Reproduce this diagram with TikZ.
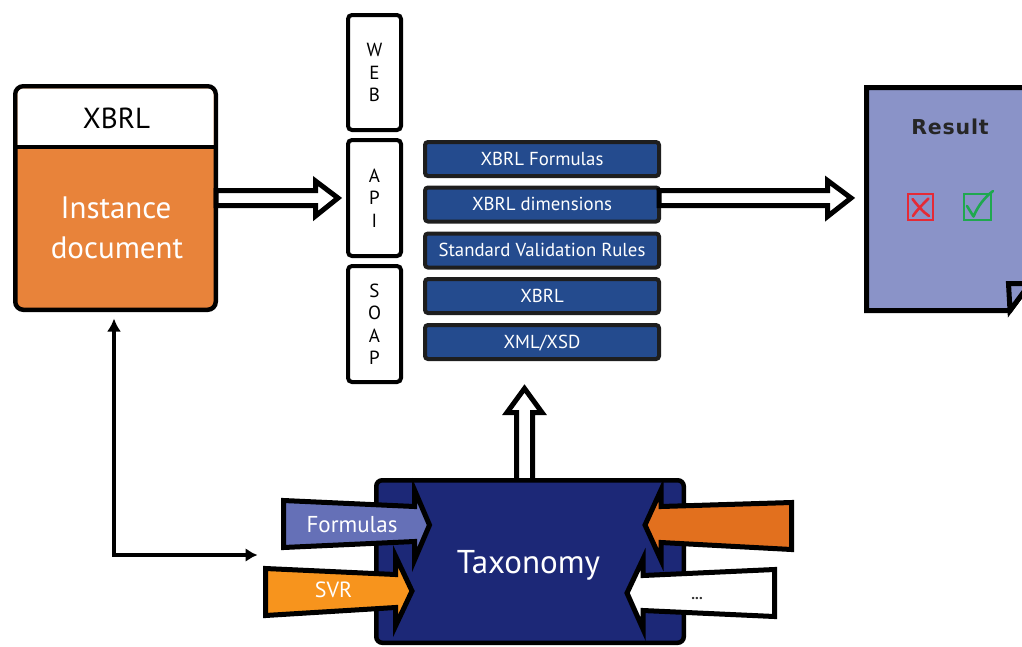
\documentclass[tikz,border=0pt]{standalone}
\usepackage{fontspec}
\setmainfont{PT Sans}
\newfontfamily\resfont{DejaVu Sans}
\usetikzlibrary{arrows.meta}
\definecolor{instorange}{HTML}{E8833A}
\definecolor{barblue}{HTML}{244B8E}
\definecolor{barborder}{HTML}{1E1E1E}
\definecolor{taxblue}{HTML}{1C2877}
\definecolor{formblue}{HTML}{6570B7}
\definecolor{svrorange}{HTML}{F7941D}
\definecolor{rightorange}{HTML}{E2701E}
\definecolor{resultfill}{HTML}{8A93C8}
\definecolor{xred}{HTML}{E52A36}
\definecolor{okgreen}{HTML}{1FA84F}
\begin{document}
\begin{tikzpicture}[x=1pt,y=-1pt,
  hollow/.style={draw=black, line width=5pt, fill=white, line join=miter},
  inarrow/.style={draw=black, line width=5pt, line join=miter},
  stackbox/.style={draw=black, line width=4pt, rounded corners=4pt, fill=white,
    minimum width=53pt, minimum height=116pt, inner sep=0pt, align=center,
    font=\fontsize{19}{22.5}\selectfont\addfontfeatures{LetterSpace=6}},
  bar/.style={draw=barborder, line width=4pt, fill=barblue, rounded corners=3pt,
    minimum width=234pt, minimum height=34pt, inner sep=0pt},
  bartext/.style={anchor=base, text=white, inner sep=0pt, font=\fontsize{18.8}{22}\selectfont},
  conn/.style={line width=3.5pt, {Latex[length=13pt,width=14pt]}-{Latex[length=12pt,width=14pt]}},
  lbl/.style={anchor=base, inner sep=0pt}
]
\useasboundingbox (0,0) rectangle (1022,646);

% ---------- Instance document ----------
\node[draw=black, line width=4.5pt, rounded corners=8pt, fill=instorange,
      minimum width=200.5pt, minimum height=223.5pt, inner sep=0pt] (inst) at (115.5,198) {};
\fill[white] (17.5,147) [rounded corners=6pt]-- (17.5,88.5) -- (213.5,88.5) [sharp corners]-- (213.5,147) -- cycle;
\draw[line width=4.5pt] (inst.west |- 0,147) -- (inst.east |- 0,147);
\node[lbl, font=\fontsize{29}{34}\selectfont] (xbrlhdr) at (116.5,128) {XBRL};
\node[lbl, text=white, font=\fontsize{31}{37}\selectfont] (insttxt1) at (116,218) {Instance};
\node[lbl, text=white, font=\fontsize{31}{37}\selectfont] (insttxt2) at (117,258) {document};

% ---------- WEB / API / SOAP ----------
\node[stackbox, minimum height=115pt] (web) at (374.5,72.5) {W\\E\\B};
\node[stackbox] (api) at (374.5,198) {A\\P\\I};
\node[stackbox] (soap) at (374.5,324) {S\\O\\A\\P};

% ---------- Layers ----------
\node[bar] (b1) at (542,159) {};
\node[bar] (b2) at (542,204.5) {};
\node[bar] (b3) at (542,250.5) {};
\node[bar] (b4) at (542,296) {};
\node[bar] (b5) at (542,342) {};
\node[bartext] (t1) at (542,165) {XBRL Formulas};
\node[bartext] (t2) at (542,210.5) {XBRL dimensions};
\node[bartext] (t3) at (542,256.5) {Standard Validation Rules};
\node[bartext] (t4) at (542,302) {XBRL};
\node[bartext] (t5) at (542,348) {XML/XSD};

% ---------- hollow arrows ----------
\draw[hollow] (216,190.5) -- (315.5,190.5) -- (315.5,181) -- (338,198) -- (315.5,216) -- (315.5,205.5) -- (216,205.5) -- cycle;
\draw[hollow] (659,190.5) -- (827.5,190.5) -- (827.5,180.5) -- (851,198) -- (827.5,216.5) -- (827.5,205.5) -- (659,205.5) -- cycle;
\draw[hollow] (516.5,481) -- (516.5,412.5) -- (507,412.5) -- (524.5,388.5) -- (542,412.5) -- (532.5,412.5) -- (532.5,481) -- cycle;

% ---------- Result page ----------
\draw[line width=5pt, fill=resultfill, line join=miter]
  (866.5,87.5) -- (1040,87.5) -- (1040,270) -- (1010,310.5) -- (866.5,310.5) -- cycle;
\draw[line width=5pt, fill=resultfill, line join=miter]
  (1008.5,283.5) -- (1030,283.5) -- (1010,310.5) -- cycle;
\node[lbl, text=black!85, font=\resfont\bfseries\fontsize{20.5}{25}\selectfont\addfontfeatures{LetterSpace=4}] (result) at (950,134) {Result};
\node[draw=xred, line width=2pt, minimum width=25pt, minimum height=26pt, inner sep=0pt] (nobox) at (920.5,207) {};
\draw[xred, line width=2.6pt, line cap=round] (912.5,199) .. controls (918,206) and (923,212) .. (929,216);
\draw[xred, line width=2.6pt, line cap=round] (928.5,198.5) .. controls (923,204) and (916,211) .. (913,216);
\node[draw=okgreen, line width=2pt, minimum width=27pt, minimum height=26pt, inner sep=0pt] (okbox) at (977.5,207) {};
\draw[okgreen, line width=2.6pt, line cap=round, line join=round] (967,206) -- (973.5,216.5) .. controls (978,206) and (984,198) .. (993,191);

% ---------- Taxonomy ----------
\node[draw=black, line width=4.5pt, rounded corners=6pt, fill=taxblue,
      minimum width=307.5pt, minimum height=162.5pt, inner sep=0pt] (tax) at (530,561.5) {};
\node[lbl, text=white, font=\fontsize{33}{38}\selectfont] (taxtxt) at (528.5,573) {Taxonomy};

% input arrows
\draw[inarrow, fill=formblue] (283.5,500.5) -- (414.5,506.5) -- (414.5,490) -- (429.5,525) -- (414.5,560) -- (414.5,541.5) -- (283.5,547.5) -- cycle;
\node[lbl, text=white, font=\fontsize{23}{26}\selectfont] (formtxt) at (352,532) {Formulas};
\draw[inarrow, fill=svrorange] (265.5,568.5) -- (395.5,574.5) -- (395.5,556) -- (412,591) -- (395.5,626) -- (395.5,607.5) -- (265.5,615.5) -- cycle;
\node[lbl, text=white, font=\fontsize{22}{26}\selectfont] (svrtxt) at (333.5,597) {SVR};
\draw[inarrow, fill=rightorange] (791.5,502.5) -- (661,506.5) -- (661,490) -- (645,525) -- (661,560) -- (661,542.5) -- (791.5,549.5) -- cycle;
\draw[inarrow, fill=white] (774.5,569.5) -- (643,575.5) -- (643,559) -- (627,593) -- (643,629) -- (643,610.5) -- (774.5,616.5) -- cycle;
\node[lbl, text=black!80, font=\bfseries\fontsize{15}{16}\selectfont] (dots) at (697,599) {...};

% ---------- connector ----------
\coordinate (cA) at (114,318.5);
\coordinate (cB) at (257.5,555);
\draw[conn] (cA) |- (cB);
\end{tikzpicture}
\end{document}
